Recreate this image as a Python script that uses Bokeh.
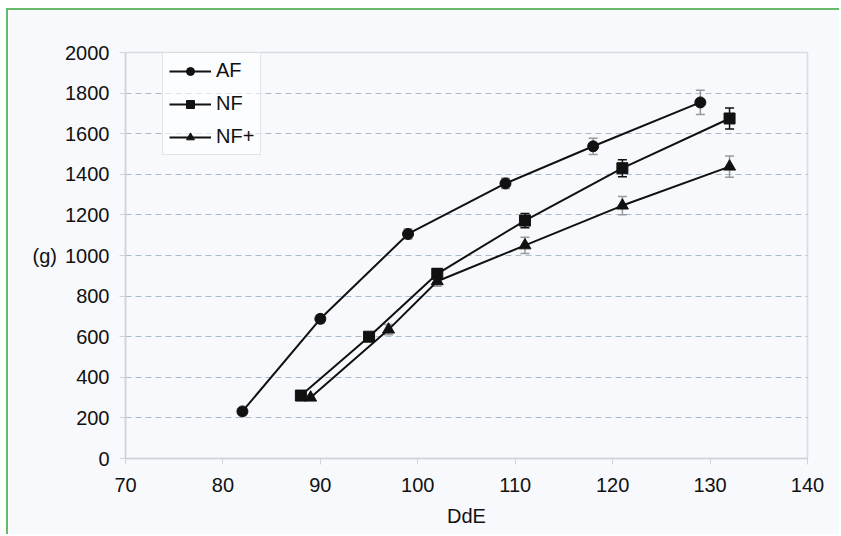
from bokeh.plotting import figure
from bokeh.models import (ColumnDataSource, Whisker, TeeHead, Legend, LegendItem,
                          FixedTicker, Label, Range1d)
from bokeh.embed import file_html
from bokeh.resources import INLINE

# ---- data ----
af_x = [82, 90, 99, 109, 118, 129]
af_y = [232, 688, 1106, 1355, 1538, 1754]
af_err = [15, 20, 25, 25, 40, 60]

nf_x = [88, 95, 102, 111, 121, 132]
nf_y = [310, 600, 910, 1172, 1430, 1675]
nf_err = [12, 18, 25, 35, 42, 52]

nfp_x = [89, 97, 102, 111, 121, 132]
nfp_y = [300, 635, 873, 1050, 1246, 1438]
nfp_err = [12, 25, 25, 40, 45, 52]

x_ticks = [70, 80, 90, 100, 110, 120, 130, 140]
y_ticks = [0, 200, 400, 600, 800, 1000, 1200, 1400, 1600, 1800, 2000]

FONT = "Liberation Sans"
FS = "20px"
BG = "#f8f9fc"

p = figure(width=833, height=526, output_backend="svg", toolbar_location=None,
           x_range=Range1d(70, 140), y_range=Range1d(0, 2000),
           min_border_left=117, min_border_right=34, min_border_top=42,
           min_border_bottom=78)
p.styles = {"border-top": "2px solid #66bb6a", "border-left": "2px solid #66bb6a",
            "margin-top": "8px", "margin-left": "6px"}
p.background_fill_color = BG
p.border_fill_color = BG
p.outline_line_color = "#d8dce2"
p.outline_line_width = 1.5

p.xgrid.grid_line_color = None
p.ygrid.grid_line_color = "#a9bccb"
p.ygrid.grid_line_dash = "6 4"
p.ygrid.grid_line_width = 1.2

for ax in (p.xaxis[0], p.yaxis[0]):
    ax.axis_line_color = "#d0d4da"
    ax.axis_line_width = 1.5
    ax.major_tick_line_color = "#d0d4da"
    ax.major_tick_in = 0
    ax.major_tick_out = 6
    ax.minor_tick_line_color = None
    ax.major_label_text_font = FONT
    ax.major_label_text_font_size = FS
    ax.major_label_text_color = "#111111"
    ax.axis_label_text_font = FONT
    ax.axis_label_text_font_size = FS
    ax.axis_label_text_font_style = "normal"
    ax.axis_label_text_color = "#111111"

p.xaxis.ticker = FixedTicker(ticks=x_ticks)
p.yaxis.ticker = FixedTicker(ticks=y_ticks)
p.xaxis.axis_label = "DdE"
p.xaxis.axis_label_standoff = 10
p.xaxis.major_label_standoff = 13
p.yaxis.major_label_standoff = 10

use_axis_label = True
try:
    p.yaxis[0].axis_label_orientation = "horizontal"
except Exception:
    use_axis_label = False
if use_axis_label:
    p.yaxis.axis_label = "(g)"
    p.yaxis.axis_label_standoff = 5

def series(xs, ys, errs, marker, size, err_color):
    src = ColumnDataSource(dict(x=xs, y=ys, lo=[a - b for a, b in zip(ys, errs)],
                                hi=[a + b for a, b in zip(ys, errs)]))
    w = Whisker(source=src, base="x", lower="lo", upper="hi",
                line_color=err_color, line_width=1.5,
                upper_head=TeeHead(size=9, line_color=err_color, line_width=1.5),
                lower_head=TeeHead(size=9, line_color=err_color, line_width=1.5))
    p.add_layout(w)
    lr = p.line("x", "y", source=src, line_color="#111111", line_width=2)
    sr = p.scatter("x", "y", source=src, marker=marker, size=size,
                   fill_color="#111111", line_color="#111111")
    return [lr, sr]

r_af = series(af_x, af_y, af_err, "circle", 11, "#9a9a9a")
r_nf = series(nf_x, nf_y, nf_err, "square", 11, "#111111")
r_nfp = series(nfp_x, nfp_y, nfp_err, "triangle", 12, "#9a9a9a")

legend = Legend(items=[LegendItem(label="AF", renderers=r_af),
                       LegendItem(label="NF", renderers=r_nf),
                       LegendItem(label="NF+", renderers=r_nfp)],
                location=(37, 303))
legend.label_text_font = FONT
legend.label_text_font_size = FS
legend.label_text_color = "#111111"
legend.glyph_width = 42
legend.glyph_height = 20
legend.label_height = 20
legend.label_standoff = 5
legend.spacing = 10
legend.padding = 6
legend.margin = 0
legend.border_line_color = "#c8ccd2"
legend.border_line_width = 1.5
legend.background_fill_color = "#ffffff"
legend.background_fill_alpha = 0.6
p.add_layout(legend, "center")

if not use_axis_label:
    p.add_layout(Label(x=5, y=1000, x_units="screen", text="(g)", text_align="left",
                       text_baseline="middle", text_font=FONT, text_font_size=FS,
                       text_color="#111111"))

open("out.html", "w").write(file_html(p, INLINE))
